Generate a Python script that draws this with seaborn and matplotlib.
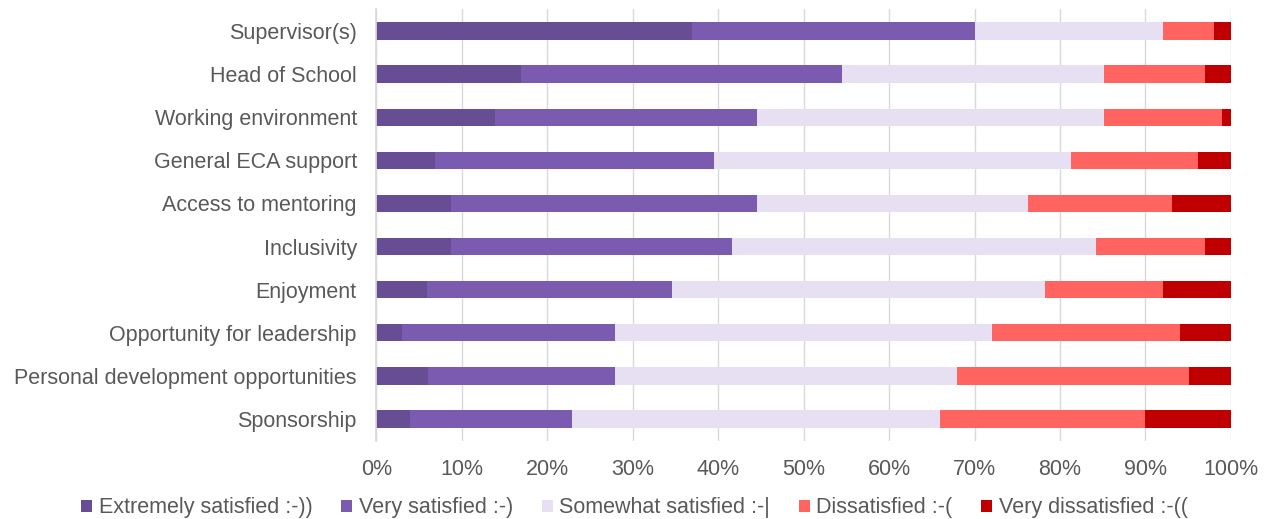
import matplotlib
matplotlib.use("Agg")
import matplotlib.pyplot as plt
import seaborn as sns
import numpy as np
import pandas as pd
from matplotlib.patches import Patch

categories = ["Supervisor(s)", "Head of School", "Working environment", "General ECA support",
              "Access to mentoring", "Inclusivity", "Enjoyment", "Opportunity for leadership",
              "Personal development opportunities", "Sponsorship"]
extremely_satisfied = [37.0, 16.9, 13.9, 6.9, 8.8, 8.8, 5.9, 3.0, 6.0, 3.9]
very_satisfied = [33.0, 37.6, 30.7, 32.6, 35.8, 32.8, 28.7, 24.9, 21.9, 19.0]
somewhat_satisfied = [22.0, 30.7, 40.6, 41.8, 31.6, 42.6, 43.6, 44.1, 40.1, 43.1]
dissatisfied = [6.0, 11.8, 13.8, 14.8, 16.9, 12.8, 13.9, 22.0, 27.1, 24.0]
very_dissatisfied = [2.0, 3.0, 1.0, 3.9, 6.9, 3.0, 7.9, 6.0, 4.9, 10.0]

series_names = ["Extremely satisfied :-))", "Very satisfied :-)", "Somewhat satisfied :-|",
                "Dissatisfied :-(", "Very dissatisfied :-(("]
colors = ["#674E94", "#7B5BB0", "#E6E0F2", "#FF6461", "#C00000"]
tick_labels = ["0%", "10%", "20%", "30%", "40%", "50%", "60%", "70%", "80%", "90%", "100%"]

sns.set_theme(style="white")
plt.rcParams['font.family'] = ['Liberation Sans', 'DejaVu Sans']

series = [extremely_satisfied, very_satisfied, somewhat_satisfied, dissatisfied, very_dissatisfied]
cum = np.cumsum(np.array(series), axis=0)

fig = plt.figure(figsize=(12.69, 5.19), dpi=100)
ax = fig.add_axes([0.2965, 0.151, 0.6735, 0.831])

for i in range(len(series) - 1, -1, -1):
    df = pd.DataFrame({"cat": categories, "val": cum[i]})
    sns.barplot(data=df, x="val", y="cat", orient="h", color=colors[i], width=0.4,
                saturation=1, linewidth=0, ax=ax, order=categories)

ax.set_xlim(0, 100)
ax.set_xticks(np.arange(0, 101, 10))
ax.set_xticklabels(tick_labels)
ax.set_xlabel("")
ax.set_ylabel("")
ax.grid(axis="x", color="#D9D9D9", linewidth=1)
ax.set_axisbelow(True)
for s in ["top", "right", "bottom"]:
    ax.spines[s].set_visible(False)
ax.spines["left"].set_color("#D9D9D9")
ax.tick_params(axis="both", length=0, labelsize=15.5, labelcolor="#595959")
ax.tick_params(axis="x", pad=13)
ax.tick_params(axis="y", pad=14)

handles = [Patch(facecolor=c, edgecolor="none", label=n) for c, n in zip(colors, series_names)]
fig.legend(handles=handles, loc="lower center", bbox_to_anchor=(0.5, -0.036), ncol=5,
           frameon=False, fontsize=15.5, labelcolor="#595959", handlelength=0.5,
           handleheight=0.5, handletextpad=0.3, columnspacing=1.35)

fig.savefig("out.png", dpi=100)
